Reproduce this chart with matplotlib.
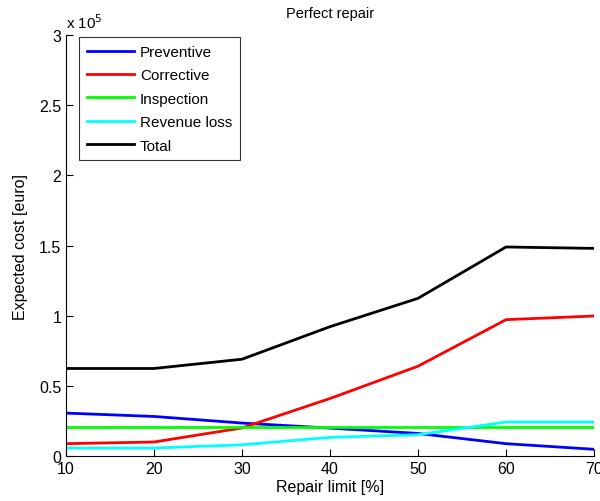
import matplotlib.pyplot as plt
from matplotlib.ticker import FuncFormatter

plt.rcParams['font.family'] = ['Liberation Sans', 'DejaVu Sans']

repair_limit = [10, 20, 30, 40, 50, 60, 70]
preventive = [0.306, 0.282, 0.235, 0.199, 0.161, 0.088, 0.048]
corrective = [0.088, 0.100, 0.200, 0.410, 0.640, 0.972, 0.998]
inspection = [0.209, 0.209, 0.209, 0.209, 0.209, 0.209, 0.209]
revenue_loss = [0.057, 0.057, 0.080, 0.133, 0.152, 0.242, 0.242]
total = [0.624, 0.624, 0.690, 0.922, 1.124, 1.490, 1.480]
scale = 1e5

fig = plt.figure(figsize=(6.0, 5.02), dpi=100)
ax = fig.add_axes([0.11, 0.0896, 0.88, 0.8384])

series = [
    (preventive, '#0000ff', 'Preventive'),
    (corrective, '#ff0000', 'Corrective'),
    (inspection, '#00ff00', 'Inspection'),
    (revenue_loss, '#00ffff', 'Revenue loss'),
    (total, '#000000', 'Total'),
]
for vals, color, name in series:
    ax.plot(repair_limit, [v * scale for v in vals], color=color, lw=2, label=name)

ax.set_xlim(10, 70)
ax.set_ylim(0, 3e5)
ax.set_xticks(repair_limit)
ax.set_yticks([i * 0.5e5 for i in range(7)])
ax.yaxis.set_major_formatter(FuncFormatter(lambda v, p: '%g' % (v / scale)))
ax.tick_params(direction='in', labelsize=11.5, length=5)
ax.spines['top'].set_visible(False)
ax.spines['right'].set_visible(False)

ax.text(0.0, 1.01, r'x 10$^5$', transform=ax.transAxes, fontsize=11, va='bottom')
ax.set_title('Perfect repair', fontsize=10.5, pad=13)
ax.set_xlabel('Repair limit [%]', fontsize=11.5, labelpad=2)
ax.set_ylabel('Expected cost [euro]', fontsize=11.5, labelpad=8)

leg = ax.legend(loc='upper left', bbox_to_anchor=(0.0246, 0.995), borderaxespad=0,
                fontsize=11, fancybox=False, edgecolor='black',
                handlelength=3.1, handletextpad=0.4, labelspacing=0.62,
                borderpad=0.5)
leg.get_frame().set_linewidth(0.8)

fig.savefig('out.png', dpi=100)
